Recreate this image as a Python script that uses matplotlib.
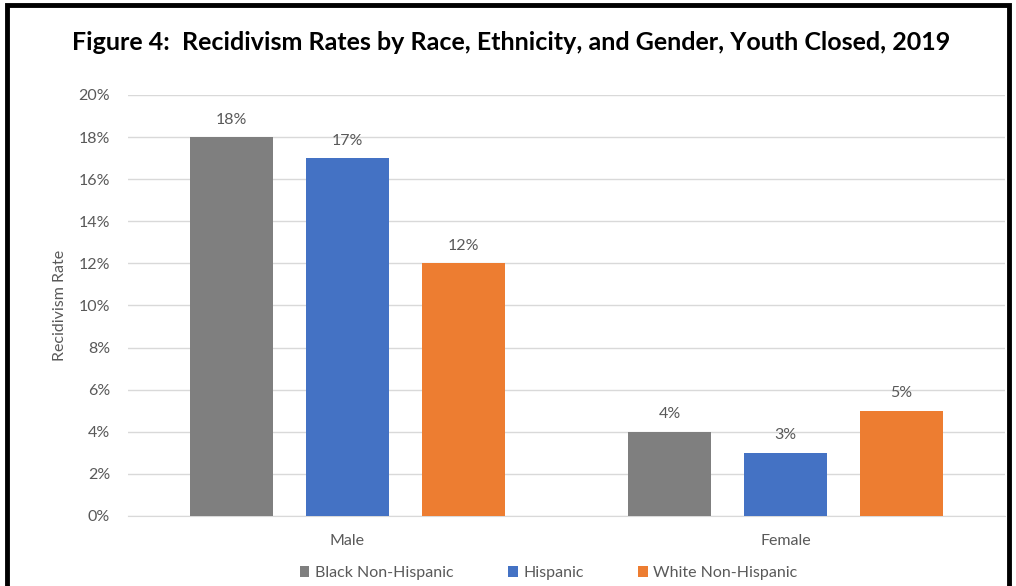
import matplotlib
matplotlib.use('Agg')
import matplotlib.pyplot as plt
import numpy as np
from matplotlib.patches import Rectangle
from matplotlib.ticker import FuncFormatter

genders = ['Male', 'Female']
series = ['Black Non-Hispanic', 'Hispanic', 'White Non-Hispanic']
rates = {
    'Black Non-Hispanic': [18, 4],
    'Hispanic': [17, 3],
    'White Non-Hispanic': [12, 5],
}
colors = ['#7f7f7f', '#4472c4', '#ed7d31']
txt = '#595959'

plt.rcParams['font.family'] = ['Lato', 'DejaVu Sans']

fig = plt.figure(figsize=(10.16, 5.86), dpi=100)
ax = fig.add_axes([0.126, 0.1195, 0.863, 0.7185])

x = np.arange(len(genders))
w = 0.19
step = 0.2645
for i, (name, c) in enumerate(zip(series, colors)):
    bars = ax.bar(x + (i - 1) * step, rates[name], w, color=c, label=name, zorder=3)
    for b, v in zip(bars, rates[name]):
        ax.text(b.get_x() + b.get_width() / 2, v + 0.5, f'{v}%',
                ha='center', va='bottom', fontsize=11.5, color=txt)

ax.set_xlim(-0.5, 1.5)
ax.set_ylim(0, 20)
ax.set_yticks(range(0, 21, 2))
ax.yaxis.set_major_formatter(FuncFormatter(lambda v, p: f'{v:.0f}%'))
ax.set_xticks(x)
ax.set_xticklabels(genders)
ax.tick_params(axis='both', length=0, labelsize=11.5, colors=txt)
ax.tick_params(axis='x', pad=13)
ax.tick_params(axis='y', pad=13)
ax.grid(axis='y', color='#d9d9d9', lw=1, zorder=0)
for s in ['top', 'right', 'left']:
    ax.spines[s].set_visible(False)
ax.spines['bottom'].set_color('#d9d9d9')
ax.set_ylabel('Recidivism Rate', fontsize=11.5, color=txt, labelpad=8)

fig.text(0.503, 0.928, 'Figure 4:  Recidivism Rates by Race, Ethnicity, and Gender, Youth Closed, 2019',
         ha='center', va='center', fontsize=18, fontweight='bold', color='black')

leg = fig.legend(loc='center', bbox_to_anchor=(0.54, 0.022), ncol=3, frameon=False,
                 fontsize=11.5, handlelength=0.6, handleheight=0.6, handletextpad=0.35,
                 columnspacing=3.4)
for t in leg.get_texts():
    t.set_color(txt)

fig.patches.append(Rectangle((0.0065, -0.1), 0.987, 1.091, transform=fig.transFigure,
                             fill=False, lw=3.5, edgecolor='black'))

plt.savefig('out.png', dpi=100)
